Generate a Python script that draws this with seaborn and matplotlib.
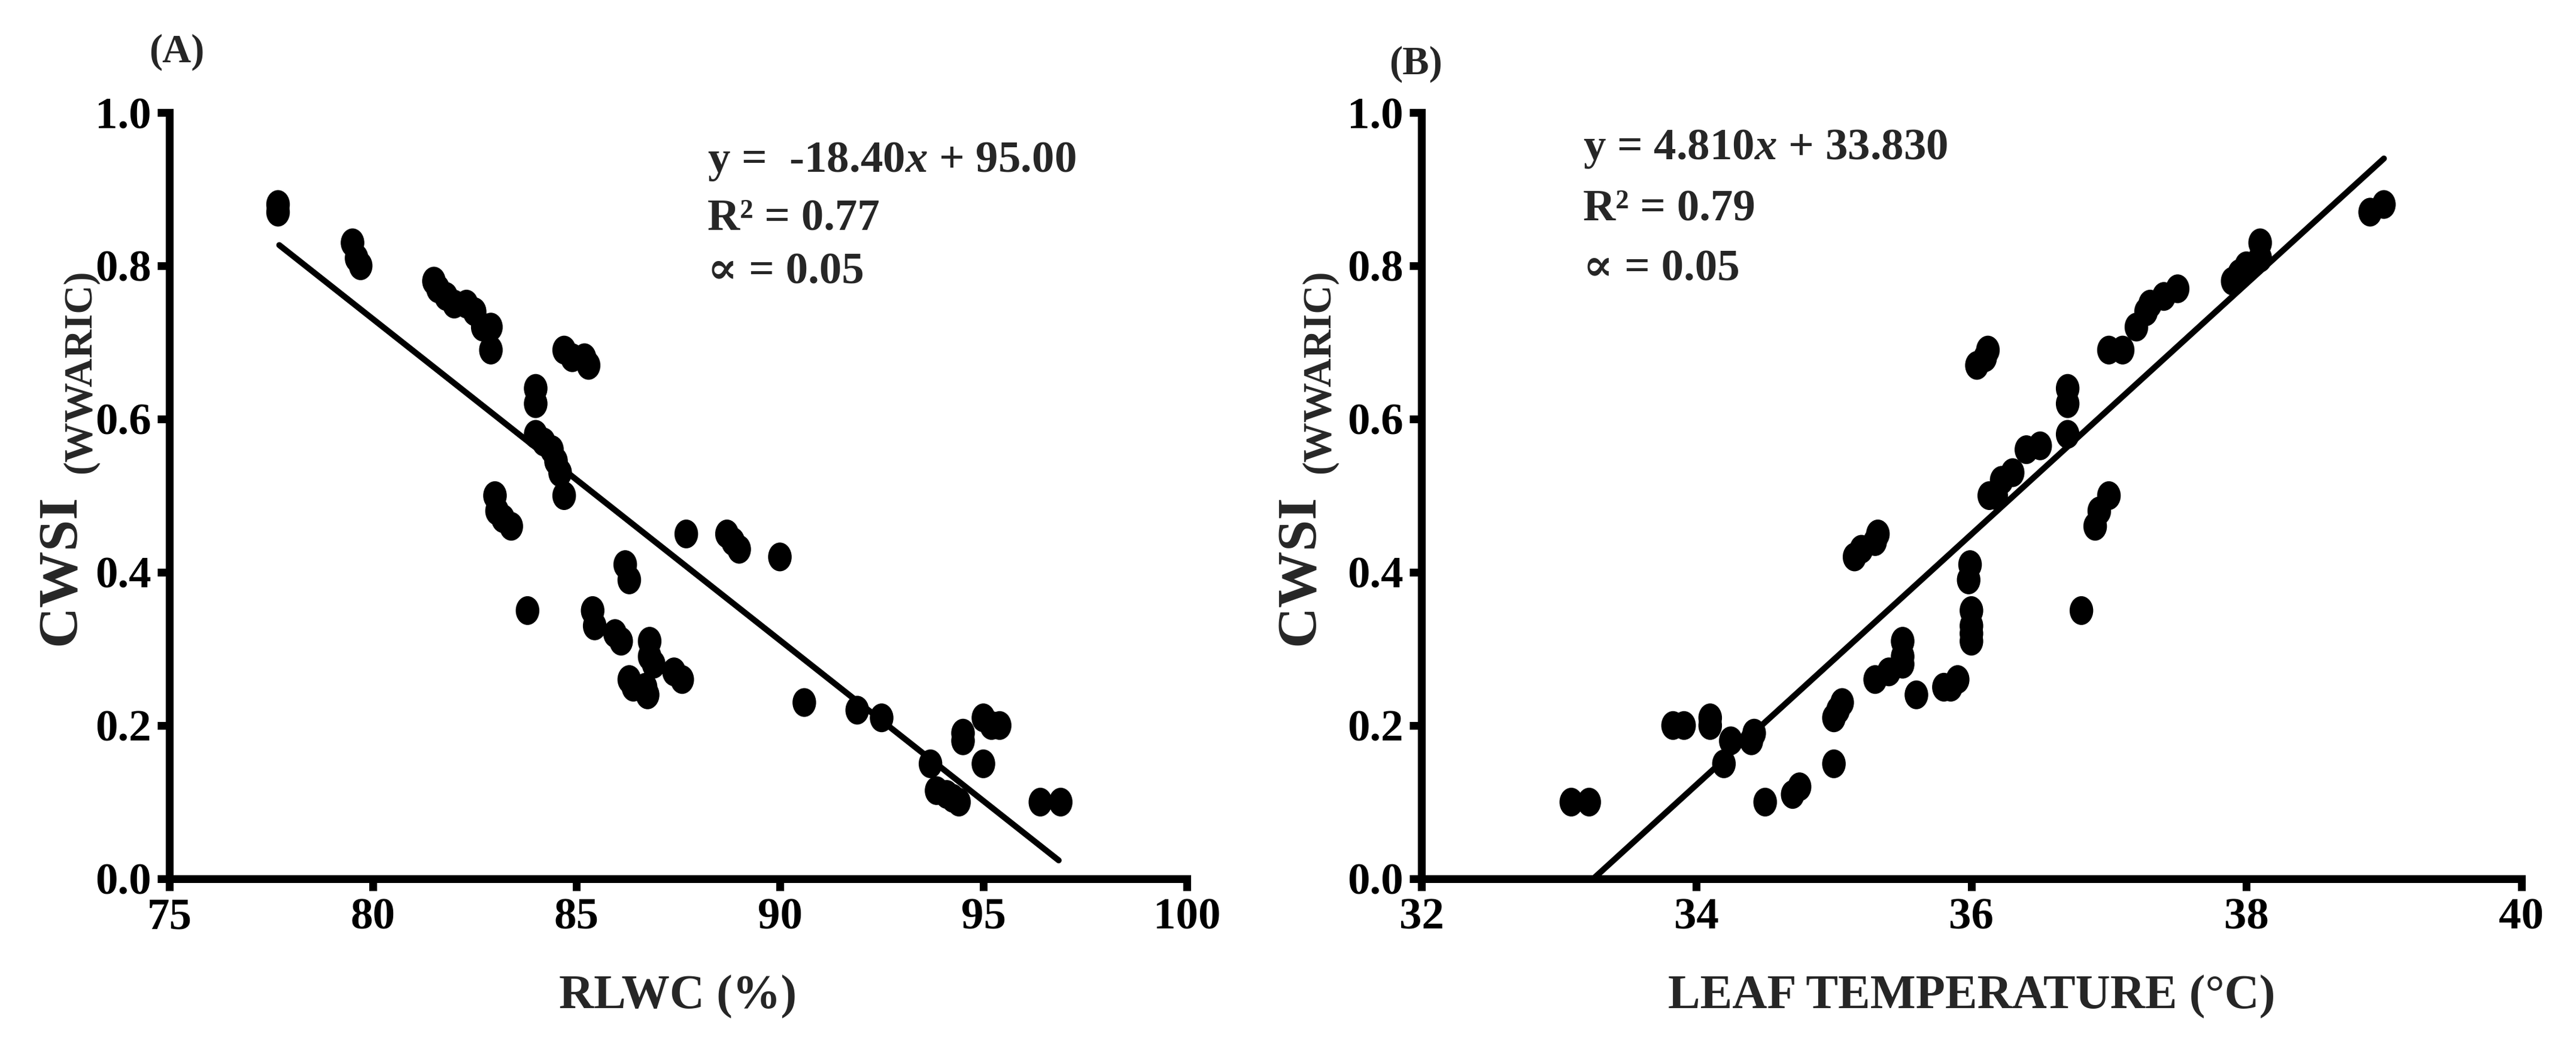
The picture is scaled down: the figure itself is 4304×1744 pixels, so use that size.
import numpy as np
import pandas as pd
import matplotlib
matplotlib.use("Agg")
import matplotlib.pyplot as plt
from matplotlib.path import Path
import seaborn as sns

# ---------------- data ----------------
# Panel A: RLWC (%) vs CWSI
rlwc = [77.67, 77.67, 79.5, 79.6, 79.7,
        81.5, 81.6, 81.8, 82.0, 82.3, 82.5, 82.7, 82.9, 82.9,
        84.7, 84.9, 85.2, 85.3,
        84.0, 84.0, 84.0, 84.2, 84.4, 84.5, 84.6, 84.7,
        83.0, 83.05, 83.2, 83.4, 83.8,
        87.7, 88.7, 88.85, 89.0, 90.0,
        86.2, 86.3, 85.4, 85.45, 85.95, 86.1,
        86.8, 86.8, 86.9, 86.3, 86.4, 86.7, 86.75, 87.4, 87.6,
        90.6, 91.9, 92.5,
        93.7, 93.85, 94.1, 94.25, 94.4,
        94.5, 94.5, 95.0, 95.2, 95.4, 95.0,
        96.4, 96.9]
cwsi_a = [0.88, 0.87, 0.83, 0.81, 0.80,
          0.78, 0.77, 0.76, 0.75, 0.75, 0.74, 0.72, 0.72, 0.69,
          0.69, 0.68, 0.68, 0.67,
          0.64, 0.62, 0.58, 0.57, 0.56, 0.545, 0.53, 0.50,
          0.50, 0.48, 0.47, 0.46, 0.35,
          0.45, 0.45, 0.44, 0.43, 0.42,
          0.41, 0.39, 0.35, 0.33, 0.32, 0.31,
          0.31, 0.29, 0.28, 0.26, 0.25, 0.25, 0.24, 0.27, 0.26,
          0.23, 0.22, 0.21,
          0.15, 0.115, 0.11, 0.105, 0.10,
          0.19, 0.18, 0.21, 0.20, 0.20, 0.15,
          0.10, 0.10]
fit_a_x = [77.7, 96.85]
fit_a_y = [0.827, 0.024]

# Panel B: leaf temperature (°C) vs CWSI
leaf_t = [33.09, 33.22, 33.83, 33.91, 34.1, 34.1,
          34.2, 34.25, 34.4, 34.42, 34.5, 34.7, 34.75,
          35.0, 35.0, 35.03, 35.06,
          35.15, 35.2, 35.3, 35.32,
          35.3, 35.4, 35.5, 35.5, 35.5, 35.6,
          35.8, 35.85, 35.9, 35.98, 35.99,
          36.0, 36.0, 36.0, 36.0,
          36.04, 36.1, 36.12, 36.13, 36.18, 36.22, 36.3,
          36.4, 36.5, 36.7, 36.7, 36.7, 36.8,
          36.9, 36.93, 37.0, 37.0, 37.1,
          37.2, 37.27, 37.3, 37.4, 37.5,
          37.9, 37.95, 38.0, 38.1, 38.1, 38.9, 39.0]
cwsi_b = [0.10, 0.10, 0.20, 0.20, 0.21, 0.20,
          0.15, 0.18, 0.18, 0.19, 0.10, 0.11, 0.12,
          0.15, 0.21, 0.22, 0.23,
          0.42, 0.43, 0.44, 0.45,
          0.26, 0.27, 0.28, 0.29, 0.31, 0.24,
          0.25, 0.25, 0.26, 0.39, 0.41,
          0.35, 0.33, 0.32, 0.31,
          0.67, 0.68, 0.69, 0.50, 0.50, 0.52, 0.53,
          0.56, 0.565, 0.64, 0.62, 0.58, 0.35,
          0.46, 0.48, 0.50, 0.69, 0.69,
          0.72, 0.74, 0.75, 0.76, 0.77,
          0.78, 0.79, 0.80, 0.83, 0.81, 0.87, 0.88]
fit_b_x = [33.25, 39.0]
fit_b_y = [0.0, 0.94]

xlim_a, xticks_a = (75, 100), [75, 80, 85, 90, 95, 100]
xlim_b, xticks_b = (32, 40), [32, 34, 36, 38, 40]
yticks = [0.0, 0.2, 0.4, 0.6, 0.8, 1.0]
ytick_labels = ["0.0", "0.2", "0.4", "0.6", "0.8", "1.0"]

xlabel_a = "RLWC (%)"
xlabel_b = "LEAF TEMPERATURE (°C)"
ylabel_main = "CWSI"
ylabel_sub = "(WWARIC)"
eq_a = ["y =  -18.40$x$ + 95.00", "R² = 0.77", "∝ = 0.05"]
eq_b = ["y = 4.810$x$ + 33.830", "R² = 0.79", "∝ = 0.05"]

# ---------------- style ----------------
sns.set_theme(style="ticks")
plt.rcParams["font.family"] = ["Liberation Serif", "DejaVu Serif"]
plt.rcParams["font.weight"] = "bold"
plt.rcParams["mathtext.fontset"] = "custom"
plt.rcParams["mathtext.rm"] = "Liberation Serif:bold"
plt.rcParams["mathtext.it"] = "Liberation Serif:italic:bold"
plt.rcParams["mathtext.bf"] = "Liberation Serif:bold"

fig = plt.figure(figsize=(21.52, 8.72), dpi=200)
ax_a = fig.add_axes([0.06575, 0.1583, 0.3950, 0.7339])
ax_b = fig.add_axes([0.5518, 0.1583, 0.4270, 0.7339])

uc = Path.unit_circle()
ell = Path(uc.vertices * np.array([0.82, 1.0]), uc.codes)

df_a = pd.DataFrame({"x": rlwc, "y": cwsi_a})
df_b = pd.DataFrame({"x": leaf_t, "y": cwsi_b})

TICK_FS = 27
LAB_FS = 29
ANN_FS = 27

def style_axes(ax, df, fx, fy, xlim, xticks, xlabel, eq, eq_x, eq_ys, ylab_dx):
    sns.scatterplot(data=df, x="x", y="y", ax=ax, color="black", marker=ell,
                    s=300, linewidth=0, edgecolor="none", zorder=3, clip_on=False)
    sns.lineplot(x=fx, y=fy, ax=ax, color="black", linewidth=3.6, zorder=2)
    ax.set_xlim(*xlim)
    ax.set_ylim(0, 1.0)
    ax.set_xticks(xticks)
    ax.set_xticklabels([str(t) for t in xticks])
    ax.set_yticks(yticks)
    ax.set_yticklabels(ytick_labels)
    for s in ["top", "right"]:
        ax.spines[s].set_visible(False)
    for s in ["left", "bottom"]:
        ax.spines[s].set_linewidth(4.7)
        ax.spines[s].set_color("black")
    ax.tick_params(axis="both", direction="out", length=7.3, width=4.7,
                   color="black", labelsize=TICK_FS, labelcolor="black")
    ax.tick_params(axis="y", pad=3.5)
    ax.tick_params(axis="x", pad=4)
    for lab in ax.get_xticklabels() + ax.get_yticklabels():
        lab.set_fontweight("bold")
    ax.set_xlabel(xlabel, fontsize=LAB_FS, fontweight="bold", labelpad=22)
    ax.set_ylabel("")
    # y label: CWSI with smaller (WWARIC) subscript
    ax.text(ylab_dx[0], 0.403, ylabel_main, transform=ax.transAxes, rotation=90,
            ha="center", va="center", fontsize=34, fontweight="bold")
    ax.text(ylab_dx[1], 0.662, ylabel_sub, transform=ax.transAxes, rotation=90,
            ha="center", va="center", fontsize=24, fontweight="bold")
    for txt, yy in zip(eq, eq_ys):
        ax.text(eq_x, yy, txt, transform=ax.transAxes, ha="left", va="center",
                fontsize=ANN_FS, fontweight="bold")

style_axes(ax_a, df_a, fit_a_x, fit_a_y, xlim_a, xticks_a, xlabel_a, eq_a,
           0.529, [0.936, 0.861, 0.791], (-0.106, -0.0877))
style_axes(ax_b, df_b, fit_b_x, fit_b_y, xlim_b, xticks_b, xlabel_b, eq_b,
           0.147, [0.952, 0.874, 0.795], (-0.110, -0.093))

fig.text(0.0685, 0.950, "(A)", ha="center", va="center", fontsize=24, fontweight="bold")
fig.text(0.5495, 0.9387, "(B)", ha="center", va="center", fontsize=24, fontweight="bold")

fig.savefig("out.png", dpi=200, facecolor="white")
